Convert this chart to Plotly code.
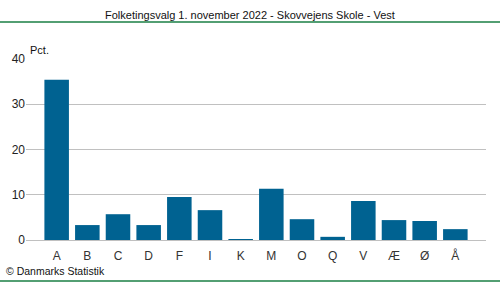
import plotly.graph_objects as go

categories = ["A", "B", "C", "D", "F", "I", "K", "M", "O", "Q", "V", "Æ", "Ø", "Å"]
values = [35.4, 3.3, 5.7, 3.3, 9.5, 6.6, 0.2, 11.3, 4.6, 0.7, 8.6, 4.4, 4.2, 2.4]
y_ticks = [0, 10, 20, 30, 40]

fig = go.Figure()
fig.add_trace(go.Bar(x=list(range(len(categories))), y=values,
                     marker=dict(color="#006291", line=dict(width=0)),
                     width=0.8, hoverinfo="skip"))

fig.update_layout(
    width=500, height=282,
    margin=dict(l=26, r=14, t=59, b=42, autoexpand=False),
    paper_bgcolor="white", plot_bgcolor="white",
    showlegend=False,
    font=dict(family="Arial, Liberation Sans, sans-serif", size=12, color="#222"),
    xaxis=dict(range=[-1, len(categories)], tickmode="array",
               tickvals=list(range(len(categories))), ticktext=categories,
               showgrid=False, zeroline=False, showline=False, ticks="",
               ticklabelstandoff=7, automargin=False,
               tickfont=dict(size=12, color="#333")),
    yaxis=dict(range=[0, 40], tickvals=y_ticks, showgrid=True,
               gridcolor="#c0c0c0", gridwidth=1, zeroline=True,
               zerolinecolor="#c0c0c0", zerolinewidth=1, ticks="",
               automargin=False,
               tickfont=dict(size=12, color="#222")),
    shapes=[
        dict(type="line", xref="paper", yref="paper", x0=-1, x1=2,
             y0=1 + 37/181, y1=1 + 37/181, line=dict(color="#1a7f45", width=1.5)),
        dict(type="line", xref="paper", yref="paper", x0=-1, x1=2,
             y0=-41/181, y1=-41/181, line=dict(color="#1a7f45", width=1.5)),
    ],
    annotations=[
        dict(text="Folketingsvalg 1. november 2022 - Skovvejens Skole - Vest",
             xref="paper", yref="paper", x=(250-26)/460, y=1 + 44/181,
             xanchor="center", yanchor="middle", showarrow=False,
             font=dict(size=11, color="#111")),
        dict(text="Pct.", xref="paper", yref="paper", x=2/460, y=1 + 9/181,
             xanchor="left", yanchor="middle", showarrow=False,
             font=dict(size=11, color="#111")),
        dict(text="© Danmarks Statistik", xref="paper", yref="paper",
             x=-22/460, y=-31/181, xanchor="left", yanchor="middle",
             showarrow=False, font=dict(size=10.5, color="#111")),
    ],
)

fig.write_html("out.html")
